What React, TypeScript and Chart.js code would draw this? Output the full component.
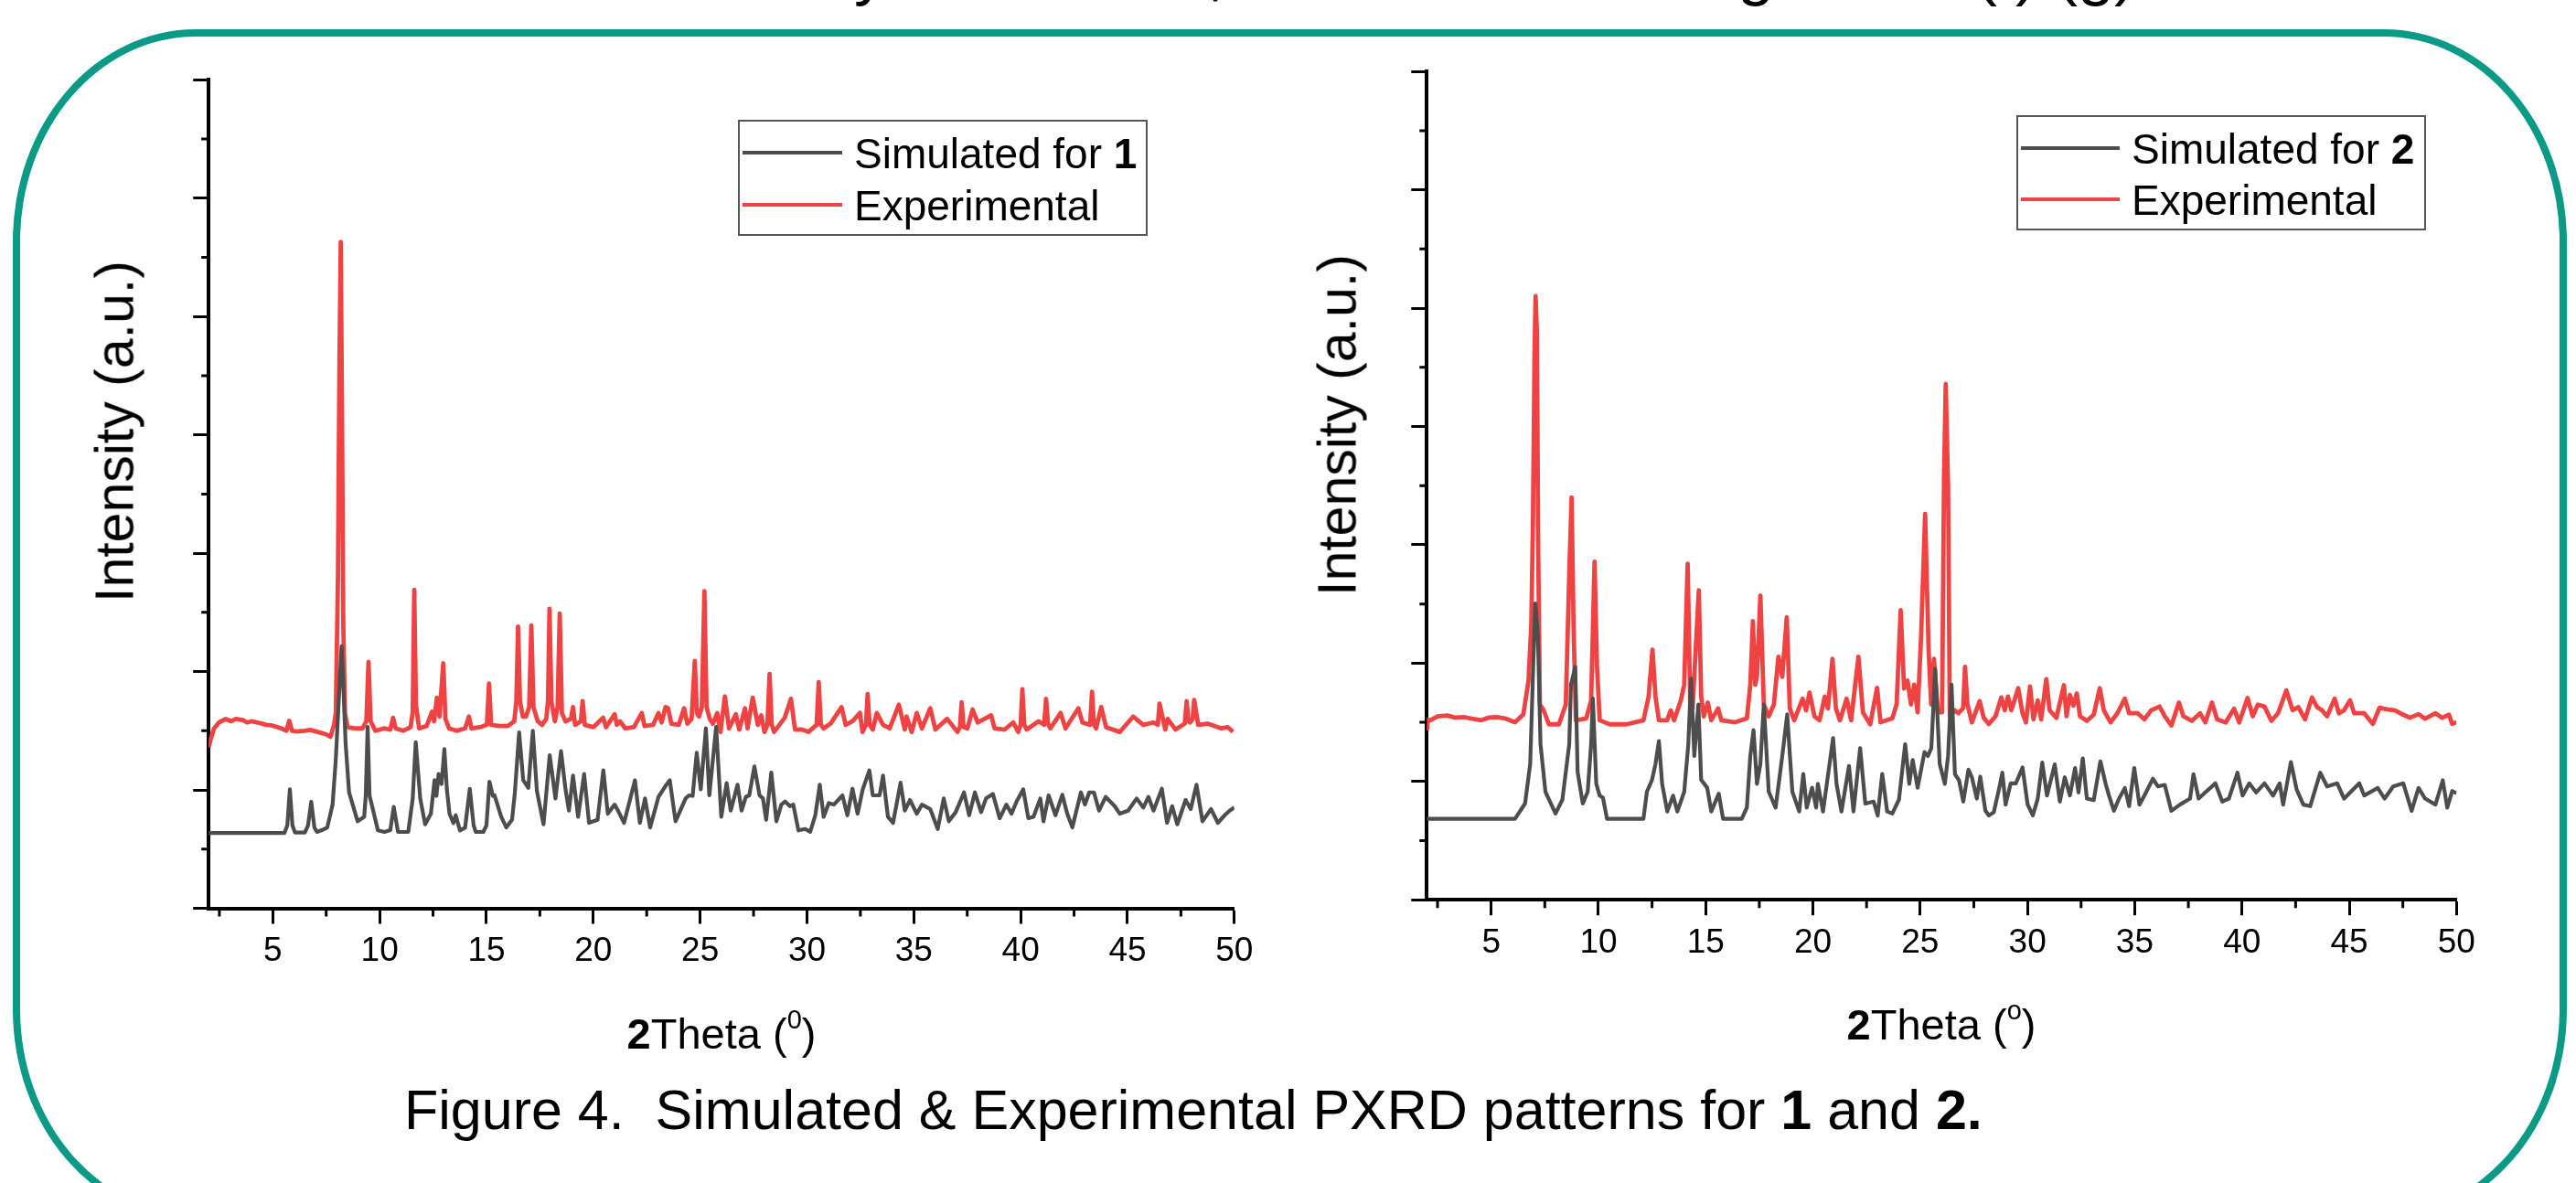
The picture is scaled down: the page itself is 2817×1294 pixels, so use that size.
import React, { useEffect, useRef } from "react";
import { Chart, registerables } from "chart.js";

Chart.register(...registerables);

// ---------- tick values ----------
const xTickValues = [5, 10, 15, 20, 25, 30, 35, 40, 45, 50];
const xMinorValues = [2.5, 7.5, 12.5, 17.5, 22.5, 27.5, 32.5, 37.5, 42.5, 47.5];
const yTickValues = [0, 1, 2, 3, 4, 5, 6, 7];
const yMinorValues = [0.5, 1.5, 2.5, 3.5, 4.5, 5.5, 6.5];

// ---------- compound 1 : simulated ----------
const sim1Theta = [
  2.0, 5.55, 5.68, 5.8, 5.92, 6.04, 6.5, 6.65, 6.8, 6.95, 7.07, 7.3, 7.55, 7.8, 7.95, 8.1, 8.22, 8.32, 8.41, 8.57,
  8.97, 9.28, 9.35, 9.44, 9.53, 9.6, 9.92, 10.23, 10.5, 10.66, 10.86, 11.34, 11.55, 11.69, 11.9, 12.13, 12.4, 12.57, 12.66, 12.76,
  12.9, 13.03, 13.15, 13.27, 13.45, 13.56, 13.76, 14.0, 14.22, 14.4, 14.5, 14.85, 15.0, 15.14, 15.3, 15.38, 15.69, 15.93, 16.2, 16.33,
  16.53, 16.72, 16.96, 17.17, 17.36, 17.67, 17.96, 18.23, 18.49, 18.7, 18.86, 19.05, 19.29, 19.57, 19.8, 20.2, 20.47, 20.68, 21.0, 21.23,
  21.44, 21.95, 22.18, 22.42, 22.66, 23.05, 23.37, 23.58, 23.85, 24.32, 24.48, 24.65, 24.84, 25.03, 25.27, 25.43, 25.75, 25.99, 26.24, 26.43,
  26.75, 26.94, 27.14, 27.3, 27.54, 27.78, 27.94, 28.09, 28.33, 28.57, 28.8, 28.98, 29.2, 29.36, 29.6, 29.92, 30.15, 30.39, 30.6, 30.78,
  31.02, 31.26, 31.66, 31.89, 32.13, 32.37, 32.61, 32.92, 33.08, 33.4, 33.56, 33.79, 34.03, 34.38, 34.58, 34.82, 35.14, 35.38, 35.77, 36.12,
  36.4, 36.64, 36.96, 37.35, 37.59, 37.86, 38.15, 38.38, 38.7, 39.02, 39.33, 39.57, 39.81, 40.12, 40.36, 40.6, 40.92, 41.07, 41.31, 41.63,
  41.95, 42.18, 42.42, 42.82, 43.01, 43.21, 43.43, 43.67, 43.98, 44.4, 44.64, 45.03, 45.43, 45.74, 45.98, 46.22, 46.61, 46.85, 47.09, 47.33,
  47.72, 47.96, 48.23, 48.51, 48.91, 49.23, 49.55, 49.78, 50.0,
];
const sim1Int = [
  0.637, 0.637, 0.7, 1.005, 0.7, 0.64, 0.64, 0.7, 0.9, 0.68, 0.645, 0.66, 0.683, 0.876, 1.262, 1.8, 2.215, 1.8, 1.39, 0.98,
  0.735, 0.773, 0.95, 1.533, 0.95, 0.9, 0.658, 0.645, 0.66, 0.856, 0.645, 0.645, 0.928, 1.404, 0.928, 0.709, 0.8, 1.082, 0.95, 1.134,
  1.05, 1.345, 1.0, 0.799, 0.72, 0.786, 0.658, 0.68, 1.01, 0.7, 0.645, 0.645, 0.7, 1.069, 0.95, 0.954, 0.773, 0.683, 0.75, 0.979,
  1.486, 1.082, 1.018, 1.499, 0.992, 0.709, 1.293, 0.928, 1.327, 1.005, 0.825, 1.121, 0.773, 1.134, 0.722, 0.748, 1.165, 0.799, 0.876, 0.799,
  0.722, 1.082, 0.722, 0.928, 0.683, 0.941, 1.031, 1.082, 0.735, 0.928, 0.954, 0.95, 1.314, 1.005, 1.52, 0.954, 1.533, 0.773, 1.057, 0.825,
  1.044, 0.825, 0.941, 0.954, 1.198, 0.954, 0.928, 0.748, 1.147, 0.735, 0.876, 0.902, 0.863, 0.876, 0.658, 0.67, 0.645, 0.786, 1.044, 0.773,
  0.889, 0.876, 0.954, 0.786, 1.01, 0.799, 1.005, 1.165, 0.954, 0.954, 1.121, 0.773, 0.722, 1.062, 0.825, 0.915, 0.799, 0.876, 0.838, 0.67,
  0.928, 0.735, 0.812, 0.979, 0.786, 0.979, 0.812, 0.928, 0.966, 0.761, 0.876, 0.799, 0.902, 1.005, 0.761, 0.773, 0.928, 0.735, 0.954, 0.786,
  0.959, 0.799, 0.683, 0.979, 0.876, 0.979, 0.979, 0.825, 0.941, 0.863, 0.799, 0.825, 0.928, 0.851, 0.941, 0.825, 1.01, 0.722, 0.863, 0.709,
  0.915, 0.838, 1.044, 0.735, 0.838, 0.722, 0.786, 0.825, 0.851,
];

// ---------- compound 1 : experimental ----------
const exp1Theta = [
  2.0, 2.08, 2.25, 2.48, 2.8, 3.05, 3.27, 3.6, 3.8, 4.0, 4.37, 4.7, 4.95, 5.17, 5.4, 5.64, 5.77, 5.9, 6.12, 6.5,
  6.75, 7.1, 7.5, 7.7, 7.86, 7.95, 8.05, 8.12, 8.18, 8.24, 8.3, 8.38, 8.5, 8.8, 9.2, 9.38, 9.48, 9.58, 9.8, 10.2,
  10.5, 10.63, 10.75, 11.1, 11.45, 11.55, 11.62, 11.7, 11.85, 12.2, 12.45, 12.55, 12.68, 12.8, 12.98, 13.08, 13.25, 13.6, 14.0, 14.18,
  14.3, 14.7, 15.02, 15.12, 15.22, 15.6, 16.0, 16.3, 16.4, 16.48, 16.57, 16.7, 16.85, 17.0, 17.1, 17.2, 17.4, 17.6, 17.8, 17.88,
  17.95, 18.04, 18.2, 18.33, 18.43, 18.53, 18.7, 18.95, 19.05, 19.15, 19.42, 19.5, 19.6, 20.0, 20.46, 20.6, 21.0, 21.1, 21.25, 21.5,
  21.9, 22.27, 22.4, 22.8, 23.05, 23.2, 23.38, 23.5, 23.65, 24.0, 24.25, 24.4, 24.6, 24.75, 24.85, 24.95, 25.08, 25.2, 25.3, 25.45,
  25.6, 25.8, 25.95, 26.16, 26.35, 26.67, 26.83, 27.1, 27.22, 27.46, 27.7, 27.86, 28.01, 28.15, 28.25, 28.35, 28.46, 28.96, 29.25, 29.44,
  29.76, 30.07, 30.45, 30.55, 30.65, 30.78, 31.1, 31.62, 31.81, 32.13, 32.48, 32.6, 32.76, 32.84, 32.93, 33.08, 33.27, 33.56, 33.87, 34.3,
  34.58, 34.66, 34.9, 35.14, 35.38, 35.77, 36.01, 36.56, 37.04, 37.16, 37.24, 37.33, 37.51, 37.75, 37.99, 38.3, 38.62, 38.78, 39.25, 39.65,
  39.89, 40.0, 40.08, 40.17, 40.28, 40.84, 41.1, 41.19, 41.28, 41.39, 41.87, 42.1, 42.7, 42.89, 43.25, 43.34, 43.43, 43.53, 43.77, 44.0,
  44.64, 45.27, 45.74, 46.22, 46.42, 46.5, 46.77, 46.88, 47.25, 47.68, 47.77, 47.85, 47.93, 48.05, 48.12, 48.31, 48.75, 49.39, 49.7, 49.94,
];
const exp1Int = [
  1.36, 1.42, 1.52, 1.57, 1.6, 1.58, 1.6, 1.59, 1.57, 1.58, 1.566, 1.55, 1.545, 1.533, 1.52, 1.5, 1.584, 1.5, 1.494, 1.5,
  1.507, 1.49, 1.47, 1.448, 1.546, 1.65, 2.8, 4.6, 5.63, 4.2, 2.4, 1.65, 1.53, 1.52, 1.52, 1.58, 2.08, 1.58, 1.5, 1.52,
  1.51, 1.61, 1.52, 1.5, 1.53, 1.66, 2.69, 1.72, 1.52, 1.54, 1.66, 1.58, 1.78, 1.62, 2.07, 1.6, 1.52, 1.5, 1.52, 1.62,
  1.52, 1.53, 1.55, 1.9, 1.55, 1.54, 1.54, 1.58, 1.75, 2.38, 1.75, 1.62, 1.62, 1.7, 2.39, 1.7, 1.58, 1.55, 1.6, 1.75,
  2.53, 1.75, 1.58, 1.7, 2.49, 1.65, 1.58, 1.6, 1.7, 1.55, 1.58, 1.75, 1.55, 1.53, 1.61, 1.53, 1.64, 1.55, 1.58, 1.52,
  1.53, 1.65, 1.54, 1.55, 1.65, 1.57, 1.7, 1.69, 1.56, 1.55, 1.69, 1.56, 1.6, 2.09, 1.65, 1.62, 1.7, 2.68, 1.7, 1.6,
  1.56, 1.65, 1.49, 1.79, 1.52, 1.64, 1.51, 1.69, 1.52, 1.78, 1.55, 1.63, 1.49, 1.55, 1.98, 1.55, 1.49, 1.61, 1.77, 1.51,
  1.51, 1.49, 1.55, 1.91, 1.55, 1.52, 1.56, 1.7, 1.55, 1.58, 1.65, 1.49, 1.55, 1.81, 1.55, 1.51, 1.65, 1.55, 1.52, 1.72,
  1.51, 1.62, 1.49, 1.65, 1.52, 1.69, 1.51, 1.6, 1.49, 1.53, 1.74, 1.53, 1.52, 1.68, 1.57, 1.6, 1.63, 1.52, 1.51, 1.57,
  1.49, 1.55, 1.85, 1.55, 1.51, 1.58, 1.55, 1.77, 1.56, 1.52, 1.65, 1.52, 1.69, 1.57, 1.55, 1.83, 1.55, 1.52, 1.7, 1.53,
  1.49, 1.62, 1.55, 1.57, 1.55, 1.73, 1.51, 1.6, 1.51, 1.56, 1.75, 1.58, 1.57, 1.6, 1.76, 1.55, 1.56, 1.52, 1.53, 1.49,
];

// ---------- compound 2 : simulated ----------
const sim2Theta = [
  2.0, 6.11, 6.58, 6.82, 6.95, 7.06, 7.18, 7.3, 7.53, 8.0, 8.32, 8.64, 8.72, 8.92, 9.03, 9.27, 9.5, 9.66, 9.74, 9.9,
  10.06, 10.21, 10.4, 12.1, 12.26, 12.5, 12.66, 12.82, 12.97, 13.21, 13.48, 13.68, 14.0, 14.19, 14.32, 14.47, 14.66, 14.79, 15.07, 15.26,
  15.61, 15.81, 16.68, 16.92, 17.08, 17.23, 17.39, 17.55, 17.71, 17.94, 18.26, 18.57, 18.8, 19.04, 19.36, 19.55, 19.71, 19.96, 20.15, 20.23,
  20.47, 20.94, 21.1, 21.33, 21.68, 21.89, 22.2, 22.44, 22.83, 23.02, 23.23, 23.46, 23.7, 24.01, 24.3, 24.49, 24.65, 24.88, 25.2, 25.36,
  25.52, 25.7, 25.91, 26.15, 26.3, 26.46, 26.62, 26.81, 27.01, 27.25, 27.41, 27.64, 27.8, 28.04, 28.2, 28.43, 28.67, 28.83, 28.98, 29.22,
  29.46, 29.77, 30.01, 30.25, 30.48, 30.69, 30.91, 31.27, 31.51, 31.74, 31.98, 32.22, 32.38, 32.58, 32.77, 33.09, 33.4, 33.64, 33.8, 34.03,
  34.27, 34.54, 34.74, 34.98, 35.22, 35.45, 35.85, 36.08, 36.4, 36.71, 37.11, 37.58, 37.74, 37.98, 38.29, 38.76, 39.08, 39.39, 39.79, 40.03,
  40.34, 40.66, 41.05, 41.45, 41.76, 41.92, 42.28, 42.55, 42.86, 43.18, 43.65, 43.97, 44.44, 44.76, 45.47, 45.7, 46.33, 46.65, 47.05, 47.52,
  47.91, 48.23, 48.54, 49.02, 49.36, 49.57, 49.8, 50.0,
];
const sim2Int = [
  0.685, 0.685, 0.813, 1.148, 1.918, 2.505, 2.22, 1.315, 0.913, 0.729, 0.846, 1.315, 1.818, 1.969, 1.081, 0.813, 0.913, 1.315, 1.7, 0.98,
  0.88, 0.863, 0.685, 0.685, 0.913, 1.014, 1.148, 1.342, 0.98, 0.746, 0.88, 0.746, 0.913, 1.315, 1.868, 1.215, 1.651, 1.014, 0.947, 0.746,
  0.897, 0.685, 0.685, 0.779, 1.215, 1.433, 0.98, 1.148, 1.651, 0.913, 0.779, 1.215, 1.567, 0.913, 0.746, 1.064, 0.779, 0.947, 0.779, 0.98,
  0.746, 1.366, 0.98, 0.746, 1.131, 0.746, 1.282, 0.813, 0.83, 0.712, 1.064, 0.746, 0.729, 0.846, 1.315, 0.98, 1.181, 0.947, 1.248, 1.215,
  1.282, 1.952, 1.148, 0.98, 1.215, 1.818, 1.061, 1.01, 0.83, 1.1, 1.035, 0.855, 1.041, 0.752, 0.713, 0.739, 0.932, 1.074, 0.804, 0.984,
  0.984, 1.118, 0.804, 0.713, 0.855, 1.159, 0.881, 1.144, 0.83, 1.035, 0.881, 1.113, 0.907, 1.195, 0.855, 0.842, 1.17, 0.984, 0.881, 0.752,
  0.855, 0.945, 0.791, 1.113, 0.804, 0.881, 1.023, 0.958, 0.971, 0.752, 0.804, 0.855, 1.061, 0.855, 0.907, 0.984, 0.83, 0.855, 1.074, 0.881,
  0.984, 0.907, 0.984, 0.881, 0.984, 0.804, 1.164, 0.932, 0.804, 0.791, 1.074, 0.958, 0.984, 0.855, 0.984, 0.881, 0.945, 0.855, 0.958, 0.984,
  0.752, 0.945, 0.855, 0.804, 1.01, 0.778, 0.919, 0.9,
];

// ---------- compound 2 : experimental ----------
const exp2Theta = [
  2.0, 2.05, 2.17, 2.5, 2.96, 3.3, 3.75, 4.1, 4.54, 4.9, 5.32, 5.7, 6.11, 6.5, 6.74, 6.87, 6.95, 7.02, 7.07, 7.13,
  7.19, 7.27, 7.45, 7.69, 8.16, 8.48, 8.64, 8.75, 8.84, 8.95, 9.43, 9.66, 9.82, 9.93, 10.06, 10.53, 11.32, 12.1, 12.34, 12.52,
  12.66, 12.82, 13.2, 13.37, 13.53, 13.84, 14.0, 14.16, 14.28, 14.39, 14.68, 14.79, 14.91, 15.1, 15.26, 15.58, 15.73, 16.37, 16.92, 17.08,
  17.2, 17.31, 17.39, 17.55, 17.71, 17.94, 18.18, 18.39, 18.57, 18.78, 18.92, 19.13, 19.52, 19.68, 19.84, 20.07, 20.31, 20.55, 20.7, 20.91,
  21.07, 21.26, 21.57, 21.78, 22.12, 22.33, 22.67, 22.99, 23.15, 23.7, 23.9, 24.09, 24.25, 24.41, 24.57, 24.72, 24.88, 25.04, 25.23, 25.39,
  25.51, 25.64, 25.83, 26.02, 26.11, 26.19, 26.3, 26.38, 26.62, 26.78, 27.0, 27.09, 27.2, 27.41, 27.77, 27.96, 28.2, 28.51, 28.78, 28.94,
  29.09, 29.25, 29.57, 29.77, 29.93, 30.12, 30.28, 30.48, 30.64, 30.88, 31.03, 31.35, 31.7, 31.82, 31.98, 32.14, 32.3, 32.45, 32.77, 33.09,
  33.37, 33.56, 33.87, 34.19, 34.54, 34.74, 35.14, 35.45, 35.77, 36.16, 36.4, 36.71, 37.06, 37.27, 37.66, 38.05, 38.29, 38.6, 38.84, 39.24,
  39.63, 39.87, 40.26, 40.5, 40.74, 41.05, 41.37, 41.68, 42.07, 42.36, 42.63, 42.94, 43.26, 43.5, 43.73, 43.97, 44.32, 44.52, 44.76, 45.04,
  45.23, 45.7, 46.1, 46.41, 46.81, 47.12, 47.52, 47.83, 48.23, 48.54, 49.02, 49.33, 49.65, 49.8, 50.0,
];
const exp2Int = [
  1.43, 1.52, 1.517, 1.55, 1.557, 1.54, 1.543, 1.53, 1.517, 1.54, 1.543, 1.53, 1.5, 1.567, 1.852, 2.32, 3.226, 4.6, 5.102, 4.8,
  3.0, 1.65, 1.6, 1.483, 1.483, 1.651, 2.756, 3.4, 2.32, 1.517, 1.533, 1.684, 2.857, 1.986, 1.517, 1.483, 1.483, 1.517, 1.717, 2.113,
  1.717, 1.517, 1.517, 1.6, 1.517, 1.684, 1.818, 2.84, 1.651, 1.617, 2.616, 1.717, 1.55, 1.667, 1.517, 1.617, 1.517, 1.5, 1.533, 1.818,
  2.354, 1.818, 1.885, 2.572, 1.651, 1.55, 1.651, 2.053, 1.885, 2.388, 1.617, 1.517, 1.7, 1.6, 1.751, 1.55, 1.517, 1.717, 1.617, 2.036,
  1.617, 1.517, 1.7, 1.517, 2.053, 1.584, 1.483, 1.791, 1.5, 1.533, 1.651, 2.448, 1.785, 1.852, 1.651, 1.818, 1.584, 2.22, 3.26, 2.12,
  1.651, 2.036, 1.584, 1.584, 3.56, 4.358, 3.494, 1.55, 1.6, 1.576, 1.62, 1.968, 1.654, 1.499, 1.679, 1.538, 1.486, 1.551, 1.71, 1.602,
  1.718, 1.602, 1.788, 1.576, 1.499, 1.803, 1.525, 1.685, 1.525, 1.865, 1.602, 1.538, 1.813, 1.551, 1.731, 1.641, 1.744, 1.551, 1.512, 1.564,
  1.788, 1.602, 1.499, 1.576, 1.7, 1.576, 1.576, 1.525, 1.602, 1.633, 1.551, 1.473, 1.667, 1.551, 1.512, 1.576, 1.499, 1.667, 1.525, 1.499,
  1.615, 1.499, 1.705, 1.551, 1.649, 1.633, 1.512, 1.576, 1.77, 1.602, 1.628, 1.525, 1.71, 1.628, 1.602, 1.551, 1.7, 1.576, 1.602, 1.685,
  1.576, 1.576, 1.486, 1.623, 1.607, 1.602, 1.564, 1.538, 1.569, 1.53, 1.576, 1.538, 1.564, 1.486, 1.5,
];

// ---------- styling ----------
const GRAY = "#4d4d4d";
const RED = "#ef4343";
const TEAL = "#0a9a85";
const FONT = '"Liberation Sans", Arial, Helvetica, sans-serif';

type Geo = {
  left: number; top: number; width: number; height: number;
  padTop: number; padRight: number; yWidth: number; xHeight: number;
};

const geoLeft: Geo = { left: 140, top: 60, width: 1260, height: 1040, padTop: 27.3, padRight: 50.2, yWidth: 88.2, xHeight: 106.5 };
const geoRight: Geo = { left: 1470, top: 50, width: 1270, height: 1040, padTop: 28.2, padRight: 53.7, yWidth: 90.3, xHeight: 105.8 };

const minorTicksPlugin = {
  id: "minorTicks",
  afterDraw(chart: any) {
    const { ctx, chartArea, scales } = chart;
    ctx.save();
    ctx.strokeStyle = "#000";
    ctx.lineWidth = 3;
    ctx.beginPath();
    for (const v of xMinorValues) {
      const p = scales.x.getPixelForValue(v);
      ctx.moveTo(p, chartArea.bottom);
      ctx.lineTo(p, chartArea.bottom + 9);
    }
    for (const v of yMinorValues) {
      const p = scales.y.getPixelForValue(v);
      ctx.moveTo(chartArea.left - 8, p);
      ctx.lineTo(chartArea.left, p);
    }
    ctx.stroke();
    ctx.restore();
  },
};

function points(xs: number[], ys: number[]) {
  return xs.map((x, i) => ({ x, y: ys[i] }));
}

function buildConfig(geo: Geo, simX: number[], simY: number[], expX: number[], expY: number[]): any {
  return {
    type: "line",
    data: {
      datasets: [
        { label: "Simulated", data: points(simX, simY), borderColor: GRAY, borderWidth: 4.2, pointRadius: 0, tension: 0, fill: false, borderJoinStyle: "round" },
        { label: "Experimental", data: points(expX, expY), borderColor: RED, borderWidth: 4.8, pointRadius: 0, tension: 0, fill: false, borderJoinStyle: "round" },
      ],
    },
    options: {
      animation: false,
      responsive: false,
      devicePixelRatio: 1,
      layout: { padding: { left: 0, top: geo.padTop, right: geo.padRight, bottom: 0 } },
      plugins: { legend: { display: false }, tooltip: { enabled: false }, title: { display: false } },
      scales: {
        x: {
          type: "linear",
          min: 2,
          max: 50,
          afterBuildTicks: (s: any) => { s.ticks = xTickValues.map((v) => ({ value: v })); },
          afterFit: (s: any) => { s.height = geo.xHeight; },
          grid: { display: true, drawOnChartArea: false, drawTicks: true, tickLength: 17, tickWidth: 3, tickColor: "#000" },
          border: { display: true, width: 4, color: "#000" },
          ticks: { color: "#000", font: { family: FONT, size: 37 }, padding: 8, maxRotation: 0, autoSkip: false, callback: (v: any) => String(v) },
        },
        y: {
          type: "linear",
          min: 0,
          max: 7,
          afterBuildTicks: (s: any) => { s.ticks = yTickValues.map((v) => ({ value: v })); },
          afterFit: (s: any) => { s.width = geo.yWidth; },
          grid: { display: true, drawOnChartArea: false, drawTicks: true, tickLength: 17, tickWidth: 3, tickColor: "#000" },
          border: { display: true, width: 4, color: "#000" },
          ticks: { display: false },
        },
      },
    },
    plugins: [minorTicksPlugin],
  };
}

function PXRDChart(props: { geo: Geo; simX: number[]; simY: number[]; expX: number[]; expY: number[] }) {
  const ref = useRef<HTMLCanvasElement | null>(null);
  useEffect(() => {
    if (!ref.current) return;
    const chart = new Chart(ref.current, buildConfig(props.geo, props.simX, props.simY, props.expX, props.expY));
    return () => chart.destroy();
  }, []);
  const g = props.geo;
  return (
    <canvas
      ref={ref}
      width={g.width}
      height={g.height}
      style={{ position: "absolute", left: g.left, top: g.top, width: g.width, height: g.height }}
    />
  );
}

// text positioned by its baseline
function Txt(p: { x: number; base: number; size: number; center?: boolean; children: any; weight?: string }) {
  return (
    <div
      style={{
        position: "absolute",
        left: p.x,
        top: p.base - 0.8465 * p.size,
        fontFamily: FONT,
        fontSize: p.size,
        lineHeight: `${p.size}px`,
        whiteSpace: "pre",
        color: "#000",
        fontWeight: (p.weight as any) || "normal",
        transform: p.center ? "translateX(-50%)" : undefined,
      }}
    >
      {p.children}
    </div>
  );
}

function Legend(p: { left: number; top: number; width: number; height: number; num: string; textX: number; lineX0: number; lineX1: number; y1: number; y2: number }) {
  return (
    <>
      <div
        style={{
          position: "absolute", left: p.left, top: p.top, width: p.width, height: p.height,
          border: "2px solid #555", boxSizing: "border-box", background: "transparent",
        }}
      />
      <div style={{ position: "absolute", left: p.lineX0, top: p.y1 - 2, width: p.lineX1 - p.lineX0, height: 4, background: GRAY }} />
      <div style={{ position: "absolute", left: p.lineX0, top: p.y2 - 2, width: p.lineX1 - p.lineX0, height: 4, background: RED }} />
      <Txt x={p.textX} base={p.y1 + 16.5} size={46}>
        {"Simulated for "}<b>{p.num}</b>
      </Txt>
      <Txt x={p.textX} base={p.y2 + 16.5} size={46}>
        {"Experimental"}
      </Txt>
    </>
  );
}

function YTitle(p: { cx: number; cy: number; size: number }) {
  return (
    <div
      style={{
        position: "absolute", left: p.cx, top: p.cy, fontFamily: FONT, fontSize: p.size, lineHeight: `${p.size}px`,
        whiteSpace: "pre", color: "#000", transform: "translate(-50%, -50%) rotate(-90deg)",
      }}
    >
      Intensity (a.u.)
    </div>
  );
}

export default function App() {
  return (
    <div style={{ position: "fixed", left: 0, top: 0, width: 2817, height: 1294, overflow: "hidden", background: "#fff" }}>
      {/* cut-off heading fragments at the very top */}
      <Txt x={934} base={-8} size={72}>y</Txt>
      <Txt x={1320} base={-8} size={72}>,</Txt>
      <Txt x={1900} base={-8} size={72}>g</Txt>
      <Txt x={2160} base={-8} size={72}>{"(f) (g)"}</Txt>

      {/* rounded teal frame */}
      <div
        style={{
          position: "absolute", left: 14, top: 32, width: 2793, height: 1304,
          border: `8px solid ${TEAL}`, boxSizing: "border-box", borderRadius: "200px / 232px",
        }}
      />

      <PXRDChart geo={geoLeft} simX={sim1Theta} simY={sim1Int} expX={exp1Theta} expY={exp1Int} />
      <PXRDChart geo={geoRight} simX={sim2Theta} simY={sim2Int} expX={exp2Theta} expY={exp2Int} />

      <Legend left={807} top={131} width={448} height={127} num="1" textX={934} lineX0={812} lineX1={921} y1={167} y2={224} />
      <Legend left={2205} top={126} width={448} height={126} num="2" textX={2331} lineX0={2210} lineX1={2318} y1={162} y2={218} />

      <YTitle cx={126} cy={472} size={59} />
      <YTitle cx={1463} cy={465} size={59} />

      <Txt x={789} base={1131.7} size={47} center>
        <b>2</b>{"Theta ("}<span style={{ fontSize: 29, verticalAlign: 22 }}>0</span>{")"}
      </Txt>
      <Txt x={2123} base={1121.7} size={47} center>
        <b>2</b>{"Theta ("}<span style={{ fontSize: 29, verticalAlign: 22 }}>o</span>{")"}
      </Txt>

      <Txt x={442} base={1236} size={61}>
        {"Figure 4.  Simulated & Experimental PXRD patterns for "}<b>1</b>{" and "}<b>2.</b>
      </Txt>
    </div>
  );
}
